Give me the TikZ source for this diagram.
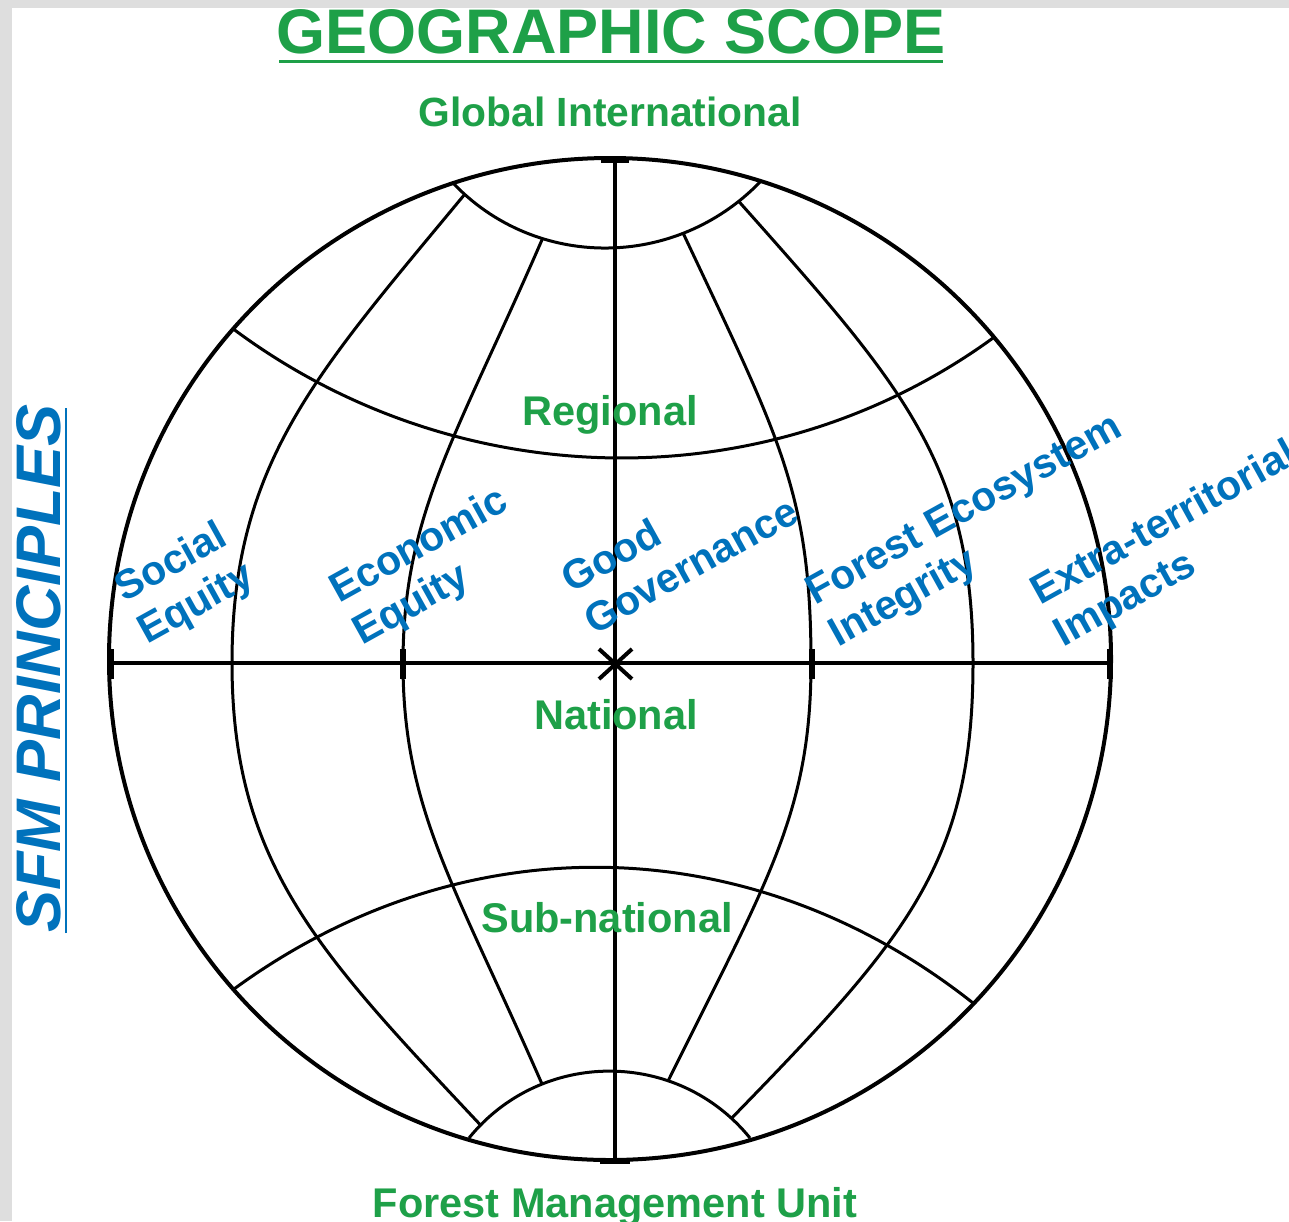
\documentclass[tikz,border=0pt]{standalone}
\usepackage{fontspec}
\setmainfont{Liberation Sans}
\definecolor{geogreen}{RGB}{30,160,72}
\definecolor{sfmblue}{RGB}{0,114,188}
\definecolor{bggray}{RGB}{222,222,222}
\begin{document}
\begin{tikzpicture}[x=1pt,y=-1pt,
  outline/.style={line width=4pt},
  gridline/.style={line width=3pt, line join=round},
  axisline/.style={line width=4pt},
  tickmark/.style={line width=6pt},
  greenlabel/.style={text=geogreen, inner sep=0pt, anchor=base, font=\fontsize{41.5}{41.5}\selectfont\bfseries},
  bluelabel/.style={text=sfmblue, inner sep=0pt, anchor=base west, rotate=29, font=\fontsize{41}{41}\selectfont\bfseries}]
\useasboundingbox (0,0) rectangle (1289,1221);
\fill[bggray] (0,0) rectangle (1289,1221);
\fill[white] (12,8) rectangle (1289,1221);

% shared points
\coordinate (C) at (610,659);
\coordinate (tcL) at (452,182);
\coordinate (tcR) at (760,182);
\coordinate (bcL) at (469,1138);
\coordinate (bcR) at (750,1138);
\coordinate (ulL) at (232,328);
\coordinate (ulR) at (993,338);
\coordinate (llL) at (234,989);
\coordinate (llR) at (973,1003);
\coordinate (loT) at (464.6,194.4);
\coordinate (loE) at (232,663);
\coordinate (loB) at (479.9,1124.4);
\coordinate (liT) at (542.5,238.6);
\coordinate (liE) at (403,663);
\coordinate (liB) at (542,1084);
\coordinate (riT) at (683.2,233.3);
\coordinate (riE) at (811,663);
\coordinate (riB) at (668.2,1080.7);
\coordinate (roT) at (738.7,201.3);
\coordinate (roE) at (973,663);
\coordinate (roB) at (731.5,1118.3);

% latitude arcs
\draw[gridline] (tcL) .. controls (535.5,270.6) and (675.4,269.5) .. (tcR);
\draw[gridline] (ulL) .. controls (456,496) and (766,503) .. (ulR);
\draw[gridline] (llL) .. controls (464,821) and (752,828) .. (llR);
\draw[gridline] (bcL) .. controls (541.3,1048.8) and (677.7,1048.8) .. (bcR);

% meridians
\draw[gridline] (loT) .. controls (316,374) and (232,463) .. (loE) .. controls (232,863) and (318,952) .. (loB);
\draw[gridline] (liT) .. controls (457,436) and (403,513) .. (liE) .. controls (403,810) and (455,885) .. (liB);
\draw[gridline] (riT) .. controls (779,437) and (811,493) .. (riE) .. controls (811,813) and (767,881) .. (riB);
\draw[gridline] (roT) .. controls (902,385) and (973,463) .. (roE) .. controls (973,863) and (907,938) .. (roB);

% outer circle
\draw[outline] (C) circle[radius=501pt];

% axes
\coordinate (eqL) at (108,663);
\coordinate (eqR) at (1112,663);
\coordinate (vtT) at (615,158);
\coordinate (vtB) at (615,1161);
\draw[axisline] (eqL) -- (eqR);
\draw[axisline] (vtT) -- (vtB);

% ticks
\draw[tickmark] (111,649) -- (111,679);
\draw[tickmark] (403,649) -- (403,679);
\draw[tickmark] (812,649) -- (812,679);
\draw[tickmark] (1110,649) -- (1110,679);
\draw[line width=5pt] (601,160) -- (629,160);
\draw[line width=5pt] (600,1161) -- (630,1161);

% centre cross
\draw[line width=4pt] (599,649) -- (632,679);
\draw[line width=4pt] (599,679) -- (632,649);

% titles
\node[greenlabel, font=\fontsize{63}{63}\selectfont\bfseries] (title) at (611,53) {GEOGRAPHIC SCOPE};
\draw[geogreen, line width=3pt] (279,61) -- (943,61);
\node[greenlabel, font=\fontsize{40.8}{40.8}\selectfont\bfseries] (global) at (610,126) {Global International};
\node[greenlabel] (regional) at (610,425) {Regional};
\node[greenlabel] (national) at (616,729) {National};
\node[greenlabel] (subnat) at (607,932) {Sub-national};
\node[greenlabel] (fmu) at (615,1217) {Forest Management Unit};

% SFM principles
\node[text=sfmblue, inner sep=0pt, anchor=base west, rotate=90, font=\fontsize{63}{63}\selectfont\bfseries\itshape] (sfm) at (60,933) {SFM PRINCIPLES};
\draw[sfmblue, line width=2.5pt] (66,933) -- (66,408);

% principle labels (second line offset = 47.5 along the rotated vertical)
\node[bluelabel] (soc1) at (124,603) {Social};
\node[bluelabel] (soc2) at (147,644.5) {Equity};
\node[bluelabel] (eco1) at (339,604) {Economic};
\node[bluelabel] (eco2) at (362,645.5) {Equity};
\node[bluelabel] (gg1) at (571,594) {Good};
\node[bluelabel] (gg2) at (594,635.5) {Governance};
\node[bluelabel] (fei1) at (815,606) {Forest Ecosystem};
\node[bluelabel] (fei2) at (838,647.5) {Integrity};
\node[bluelabel] (eti1) at (1040,606) {Extra-territorial};
\node[bluelabel] (eti2) at (1063,647.5) {Impacts};
\end{tikzpicture}
\end{document}
